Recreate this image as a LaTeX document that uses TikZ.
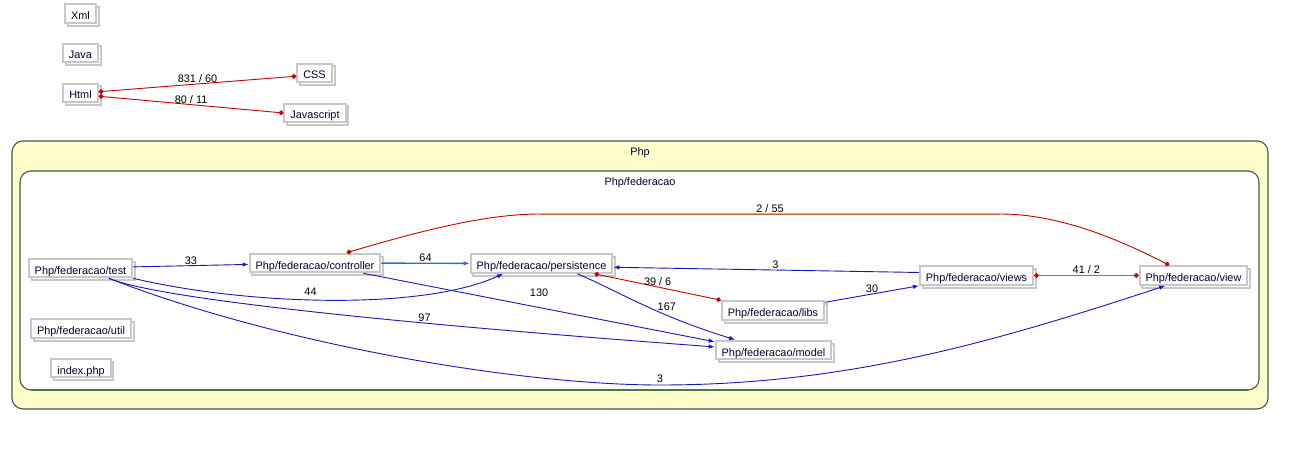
\documentclass[tikz,border=0pt]{standalone}
\usepackage{fontspec}
\setmainfont{Liberation Sans}
\usetikzlibrary{arrows.meta,shadows}

\definecolor{boxgray}{HTML}{C8C8C8}
\definecolor{textnavy}{HTML}{000033}
\definecolor{depblue}{HTML}{1818B8}
\definecolor{depbluelight}{HTML}{3868C8}
\definecolor{depred}{HTML}{C80000}
\definecolor{depbrown}{HTML}{B8683C}
\definecolor{clusteryellow}{HTML}{FFFFCC}
\definecolor{clusterborder}{HTML}{505050}
\definecolor{clustergreen}{HTML}{4A784A}
\newcommand{\diagfont}{\fontsize{10.9}{13}\selectfont}

\begin{document}
\begin{tikzpicture}[x=1pt, y=-1pt, >={Latex[length=6pt,width=4.5pt]},
    box/.style={draw=boxgray, line width=2pt, fill=white, text=textnavy,
        font=\diagfont, inner xsep=6pt, inner ysep=0pt, minimum height=18.6pt,
        text height=12pt, text depth=0pt,
        copy shadow={shadow xshift=2.8pt, shadow yshift=-2.8pt}},
    dep/.style={->, draw=depblue, line width=0.9pt},
    mutual/.style={{Circle[length=4.8pt,color=depred]}-{Circle[length=4.8pt,color=depred]},
        draw=depred, line width=0.9pt},
    lbl/.style={font=\diagfont, text=black, inner sep=1pt}]
    % 1. Khung hình và nền trắng
    \path[use as bounding box, fill=white] (0,0) rectangle (1316,465);

    % 2. Cụm Php và cụm Php/federacao
    \draw[rounded corners=11pt, fill=clusteryellow, draw=clusterborder, line width=1.1pt]
        (12,141) rectangle (1268,409);
    \draw[rounded corners=11pt, fill=white, draw=clusterborder, line width=1.1pt]
        (20,171) rectangle (1259,390);
    \draw[clustergreen, line width=1.1pt] (31,390) -- (1248,390);
    \node[font=\diagfont, text=textnavy] (phplbl) at (640,153) {Php};
    \node[font=\diagfont, text=textnavy] (fedlbl) at (640,183) {Php/federacao};

    % 3. Các nút ngoài cụm
    \foreach \n/\x/\y/\t in {xml/80.5/13.5/Xml, java/80.5/53/Java, html/80.5/93/Html,
        css/314.5/73/CSS, js/315/113/Javascript} {
        \node[box] (\n) at (\x,\y) {\t};
    }

    % 4. Các nút trong cụm Php/federacao
    \foreach \n/\x/\y in {test/80.5/268, controller/315/263, persistence/541.5/263.5,
        libs/773/310.5, model/773.5/350, views/976.5/275.5, view/1193.5/275.5,
        util/81/328.5} {
        \node[box] (\n) at (\x,\y) {Php/federacao/\n};
    }
    \node[box] (index) at (81,368) {index.php};

    % 5. Phụ thuộc một chiều (màu xanh)
    \draw[dep] (test) -- (controller) node[lbl, midway, above] {33};
    \draw[dep, draw=depbluelight, line width=1.4pt] (controller) -- (persistence)
        node[lbl, midway, above] {64};
    \draw[dep] (test.south east) .. controls (240,304) and (420,312) .. (persistence.195)
        node[lbl, pos=0.46, above=3pt] {44};
    \draw[dep] (controller.-12) -- (model.172) node[lbl, pos=0.5, above=9pt] {130};
    \draw[dep] (persistence.-16) .. controls (620,292) and (655,315) .. (model.165)
        node[lbl, pos=0.6, above right=-1pt] {167};
    \draw[dep] (test.-20) .. controls (170,304) and (513,332) .. (model.177)
        node[lbl, pos=0.59, above] {97};
    \coordinate (bottom3) at (660,385);
    \draw[dep] (test.-20) .. controls (280,345) and (520,385) .. (bottom3)
        node[lbl, above=1pt] {3}
        .. controls (850,385) and (1000,340) .. (view.200);
    \draw[dep] (views.177) -- (persistence.-3) node[lbl, pos=0.47, above] {3};
    \draw[dep] (libs.9) -- (views.south west) node[lbl, midway, above] {30};

    % 6. Phụ thuộc hai chiều (màu đỏ)
    \draw[mutual] (html.4) -- (css.190) node[lbl, midway, above] {831 / 60};
    \draw[mutual] (html.-10) -- (js.west) node[lbl, midway, above] {80 / 11};
    \draw[mutual] (persistence.-11) -- (libs.north west) node[lbl, midway, above] {39 / 6};
    \draw[mutual, draw=depbrown] (views) -- (view) node[lbl, midway, above] {41 / 2};
    \coordinate (top1) at (540,214);
    \coordinate (top2) at (1000,214);
    \draw[mutual] (controller.18) .. controls (430,228) and (490,214) .. (top1)
        -- (top2) node[lbl, midway, above] {2 / 55}
        .. controls (1060,214) and (1120,240) .. (view.157);
    \draw[depbrown, line width=0.9pt] (top1) -- (top2);
\end{tikzpicture}
\end{document}
